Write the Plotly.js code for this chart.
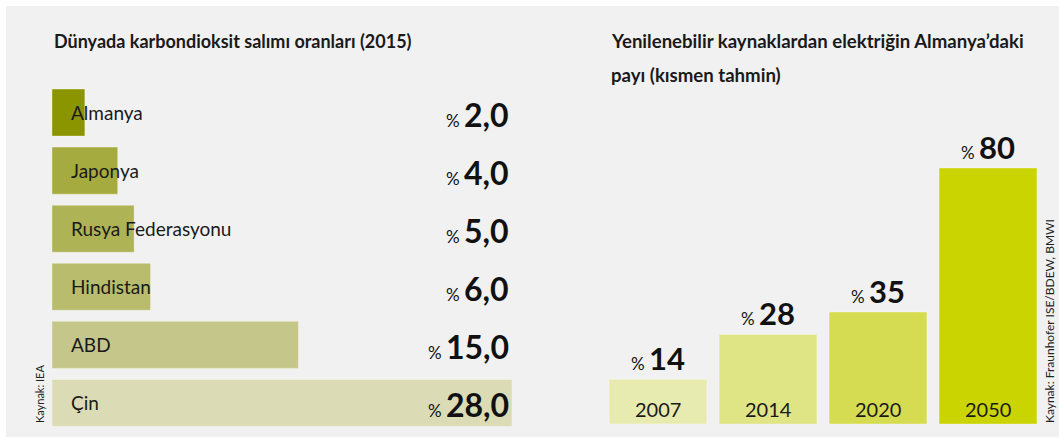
<!DOCTYPE html>
<html>
<head>
<meta charset="utf-8">
<script src="https://cdn.plot.ly/plotly-3.0.1.min.js"></script>
<style>html,body{margin:0;padding:0;background:#fff;}#chart{width:1059px;height:439px;}</style>
</head>
<body>
<div id="chart"></div>
<script>
// ---- data ----
const countries = ["Almanya", "Japonya", "Rusya Federasyonu", "Hindistan", "ABD", "Çin"];
const co2Share = [2.0, 4.0, 5.0, 6.0, 15.0, 28.0];
const co2Labels = ["2,0", "4,0", "5,0", "6,0", "15,0", "28,0"];
const co2Colors = ["#8b9500", "#a5ab3f", "#aeb356", "#b9bc6c", "#c5c78a", "#dbdcb5"];

const years = ["2007", "2014", "2020", "2050"];
const renewShare = [14, 28, 35, 80];
const renewColors = ["#e8ebb0", "#dfe585", "#d6dc52", "#c9d400"];

const title1 = "Dünyada karbondioksit salımı oranları (2015)";
const title2a = "Yenilenebilir kaynaklardan elektriğin Almanya’daki";
const title2b = "payı (kısmen tahmin)";
const source1 = "Kaynak: IEA";
const source2 = "Kaynak: Fraunhofer ISE/BDEW, BMWI";

const FONT = "Lato, 'Open Sans', sans-serif";
const W = 1059, H = 439;

const traces = [
  {
    type: "bar", orientation: "h",
    x: co2Share, y: countries,
    marker: {color: co2Colors, line: {width: 1, color: "rgba(255,255,255,0.35)"}},
    xaxis: "x", yaxis: "y", hoverinfo: "none", showlegend: false
  },
  {
    type: "bar",
    x: years, y: renewShare, width: 0.89,
    marker: {color: renewColors, line: {width: 1, color: "rgba(255,255,255,0.35)"}},
    xaxis: "x2", yaxis: "y2", hoverinfo: "none", showlegend: false
  }
];

const annotations = [];
// titles
annotations.push({xref: "paper", yref: "paper", x: 52 / W, y: 1 - 41 / H, xanchor: "left", yanchor: "middle",
  text: "<b>" + title1 + "</b>", showarrow: false, align: "left",
  font: {family: FONT, size: 18, color: "#1a1a1a"}});
annotations.push({xref: "paper", yref: "paper", x: 609 / W, y: 1 - 41 / H, xanchor: "left", yanchor: "middle",
  text: "<b>" + title2a + "</b>", showarrow: false, align: "left",
  font: {family: FONT, size: 18.6, color: "#1a1a1a"}});
annotations.push({xref: "paper", yref: "paper", x: 609 / W, y: 1 - 75 / H, xanchor: "left", yanchor: "middle",
  text: "<b>" + title2b + "</b>", showarrow: false, align: "left",
  font: {family: FONT, size: 18.6, color: "#1a1a1a"}});

// left: country labels and values
countries.forEach((c, i) => {
  annotations.push({xref: "x", yref: "y", x: 0, y: i, xanchor: "left", yanchor: "middle", xshift: 17,
    text: c, showarrow: false, font: {family: FONT, size: 19, color: "#1a1a1a"}});
  annotations.push({xref: "paper", yref: "y", x: 511 / W, y: i, xanchor: "right", yanchor: "middle", yshift: -2,
    text: "<span style='font-size:17px'>% </span><b>" + co2Labels[i] + "</b>", showarrow: false,
    font: {family: FONT, size: 32, color: "#111"}});
});

// right: year labels and values
years.forEach((yr, i) => {
  annotations.push({xref: "x2", yref: "y2", x: i, y: 0, xanchor: "center", yanchor: "bottom", yshift: 1,
    text: yr, showarrow: false, font: {family: FONT, size: 20, color: "#1a1a1a"}});
  annotations.push({xref: "x2", yref: "y2", x: i, y: renewShare[i], xanchor: "center", yanchor: "bottom", yshift: 0,
    text: "<span style='font-size:17px'>% </span><b>" + renewShare[i] + "</b>", showarrow: false,
    font: {family: FONT, size: 31, color: "#111"}});
});

// sources (rotated)
annotations.push({xref: "paper", yref: "paper", x: 39 / W, y: 1 - 425 / H, xanchor: "center", yanchor: "bottom",
  text: source1, textangle: -90, showarrow: false, font: {family: FONT, size: 11, color: "#222"}});
annotations.push({xref: "paper", yref: "paper", x: 1049 / W, y: 1 - 425 / H, xanchor: "center", yanchor: "bottom",
  text: source2, textangle: -90, showarrow: false, font: {family: FONT, size: 12, color: "#222"}});

const layout = {
  width: W, height: H,
  margin: {l: 0, r: 0, t: 0, b: 0},
  paper_bgcolor: "#ffffff",
  plot_bgcolor: "rgba(0,0,0,0)",
  bargap: 0.19,
  shapes: [
    {type: "rect", xref: "paper", yref: "paper", x0: 6 / W, x1: 1, y0: 1 - 437 / H, y1: 1 - 6 / H,
      fillcolor: "#f1f1f1", line: {width: 0}, layer: "below"}
  ],
  xaxis: {domain: [52 / W, 512 / W], range: [0, 28], visible: false, fixedrange: true},
  yaxis: {domain: [1 - 432 / H, 1 - 83.5 / H], type: "category", range: [5.5, -0.5], visible: false, anchor: "x"},
  xaxis2: {domain: [603 / W, 1043 / W], type: "category", range: [-0.5, 3.5], visible: false, anchor: "y2"},
  yaxis2: {domain: [1 - 424 / H, 1 - 104 / H], range: [0, 100], visible: false, anchor: "x2"},
  annotations: annotations
};

Plotly.newPlot("chart", traces, layout, {staticPlot: true, displayModeBar: false});
</script>
</body>
</html>
